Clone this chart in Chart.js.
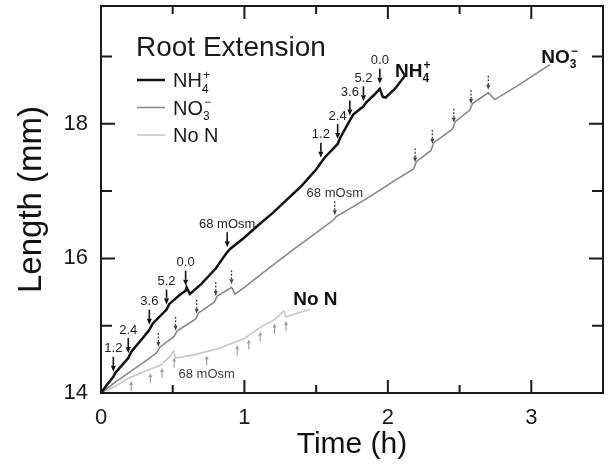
<!DOCTYPE html>
<html>
<head>
<meta charset="utf-8">
<script src="https://cdn.jsdelivr.net/npm/chart.js@4.4.0/dist/chart.umd.min.js"></script>
<style>
html, body { margin: 0; padding: 0; background: #fff; }
</style>
</head>
<body>
<canvas id="rootChart" width="611" height="471"></canvas>
<script>
// root length (mm) against time (h)
const nh4Time = [0, 0.04, 0.086, 0.1, 0.19, 0.21, 0.30, 0.337, 0.36, 0.457, 0.475, 0.55, 0.59, 0.597, 0.62, 0.70, 0.80, 0.875, 0.90, 1.00, 1.10, 1.20, 1.30, 1.40, 1.50, 1.533, 1.56, 1.65, 1.67, 1.735, 1.76, 1.83, 1.85, 1.90, 1.944, 1.965, 1.985, 2.05, 2.118];
const nh4Length = [14, 14.12, 14.24, 14.30, 14.52, 14.61, 14.84, 14.94, 15.03, 15.24, 15.32, 15.46, 15.52, 15.57, 15.47, 15.62, 15.85, 16.08, 16.14, 16.31, 16.50, 16.68, 16.88, 17.08, 17.32, 17.42, 17.50, 17.70, 17.80, 18.05, 18.14, 18.26, 18.32, 18.42, 18.52, 18.40, 18.39, 18.52, 18.71];

const no3Time = [0, 0.1, 0.2, 0.3, 0.39, 0.41, 0.51, 0.53, 0.66, 0.68, 0.79, 0.81, 0.91, 0.935, 1.0, 1.155, 1.34, 1.5, 1.62, 1.64, 1.8, 1.92, 2.05, 2.18, 2.2, 2.3, 2.32, 2.45, 2.47, 2.57, 2.59, 2.70, 2.745, 2.9, 3.13];
const no3Length = [14, 14.16, 14.31, 14.46, 14.6, 14.68, 14.84, 14.92, 15.1, 15.19, 15.35, 15.44, 15.57, 15.47, 15.57, 15.83, 16.13, 16.38, 16.57, 16.62, 16.82, 16.98, 17.16, 17.33, 17.44, 17.6, 17.72, 17.92, 18.03, 18.2, 18.3, 18.46, 18.36, 18.56, 18.88];

const noNTime = [0, 0.1, 0.19, 0.33, 0.42, 0.48, 0.505, 0.52, 0.655, 0.818, 1.0, 1.12, 1.21, 1.275, 1.29, 1.36, 1.456];
const noNLength = [14, 14.1, 14.22, 14.34, 14.42, 14.54, 14.62, 14.52, 14.57, 14.66, 14.81, 14.99, 15.09, 15.22, 15.13, 15.18, 15.24];

// treatment changes marked with arrows
const nh4ArrowTimes = [0.086, 0.19, 0.337, 0.457, 0.59, 0.88, 1.533, 1.65, 1.735, 1.83, 1.944];
const nh4ArrowLabels = ['1.2', '2.4', '3.6', '5.2', '0.0', '68 mOsm', '1.2', '2.4', '3.6', '5.2', '0.0'];
const no3ArrowTimes = [0.40, 0.52, 0.667, 0.80, 0.91, 1.63, 2.19, 2.31, 2.46, 2.58, 2.70];
const no3ArrowLabels = ['', '', '', '', '', '68 mOsm', '', '', '', '', ''];
const noNArrowTimes = [0.21, 0.344, 0.425, 0.51, 0.737, 0.95, 1.03, 1.11, 1.21, 1.29];
const noNArrowLabels = ['', '', '', '', '68 mOsm', '', '', '', '', ''];

const xTicks = [0, 1, 2, 3];
const xMinorTicks = [0.5, 1.5, 2.5];
const yTicks = [14, 16, 18];
const yMinorTicks = [15, 17, 19];

const FONT = '"Liberation Sans", Arial, Helvetica, sans-serif';

function toPoints(times, values) {
    return times.map((t, i) => ({x: t, y: values[i]}));
}

// length of a series at time t, straight between read points
function valueAt(times, values, t) {
    for (let i = 1; i < times.length; i++) {
        if (t <= times[i]) {
            const f = (t - times[i - 1]) / (times[i] - times[i - 1]);
            return values[i - 1] + f * (values[i] - values[i - 1]);
        }
    }
    return values[values.length - 1];
}

// NH4+ / NO3- style text: parts are [text, 'n' | 'sub' | 'sup']
function drawChem(ctx, x, y, parts, size, weight) {
    let cx = x;
    let subStart = null;
    parts.forEach(([txt, kind]) => {
        if (kind === 'n') {
            ctx.font = weight + ' ' + size + 'px ' + FONT;
            ctx.fillText(txt, cx, y);
            cx += ctx.measureText(txt).width;
        } else {
            const s = Math.round(size * 0.62);
            ctx.font = weight + ' ' + s + 'px ' + FONT;
            const w = ctx.measureText(txt).width;
            if (kind === 'sub') {
                ctx.fillText(txt, cx, y + size * 0.28);
                subStart = cx;
                cx += w;
            } else {
                const sx = subStart !== null ? subStart + 1 : cx;
                ctx.fillText(txt, sx, y - size * 0.42);
                cx = Math.max(cx, sx + w);
            }
        }
    });
}

function drawArrow(ctx, px, yTail, yTip, st) {
    const dir = yTip > yTail ? 1 : -1;
    ctx.strokeStyle = st.color;
    ctx.fillStyle = st.color;
    ctx.lineWidth = st.width;
    ctx.setLineDash(st.dash || []);
    ctx.beginPath();
    ctx.moveTo(px, yTail);
    ctx.lineTo(px, yTip - dir * st.headLen);
    ctx.stroke();
    ctx.setLineDash([]);
    ctx.beginPath();
    ctx.moveTo(px, yTip);
    ctx.lineTo(px - st.headW / 2, yTip - dir * st.headLen);
    ctx.lineTo(px + st.headW / 2, yTip - dir * st.headLen);
    ctx.closePath();
    ctx.fill();
}

const arrowSets = [
    {times: nh4ArrowTimes, labels: nh4ArrowLabels, lineT: nh4Time, lineV: nh4Length, up: false,
     gap: 5, len: 15, color: '#111', width: 1.6, headLen: 6, headW: 5, labelColor: '#222'},
    {times: no3ArrowTimes, labels: no3ArrowLabels, lineT: no3Time, lineV: no3Length, up: false,
     gap: 3, len: 14, color: '#444', width: 1.3, dash: [2, 1.5], headLen: 5, headW: 4, labelColor: '#333'},
    {times: noNArrowTimes, labels: noNArrowLabels, lineT: noNTime, lineV: noNLength, up: true,
     gap: 4, len: 10, color: '#9a9a9a', width: 1.1, headLen: 4, headW: 4, labelColor: '#444'}
];

const decorations = {
    id: 'decorations',
    afterDatasetsDraw(chart) {
        const {ctx, chartArea: a, scales: {x, y}} = chart;
        ctx.save();

        // frame with inward ticks on all sides
        ctx.strokeStyle = '#1a1a1a';
        ctx.lineWidth = 2;
        ctx.strokeRect(a.left, a.top, a.right - a.left, a.bottom - a.top);
        ctx.beginPath();
        const xt = (v, l) => {
            const px = x.getPixelForValue(v);
            ctx.moveTo(px, a.bottom); ctx.lineTo(px, a.bottom - l);
            ctx.moveTo(px, a.top); ctx.lineTo(px, a.top + l);
        };
        const yt = (v, l) => {
            const py = y.getPixelForValue(v);
            ctx.moveTo(a.left, py); ctx.lineTo(a.left + l, py);
            ctx.moveTo(a.right, py); ctx.lineTo(a.right - l, py);
        };
        xTicks.forEach(v => xt(v, 13));
        xMinorTicks.forEach(v => xt(v, 8));
        yTicks.forEach(v => yt(v, 14));
        yMinorTicks.forEach(v => yt(v, 11));
        ctx.stroke();

        // arrows and their labels
        ctx.textAlign = 'center';
        ctx.textBaseline = 'middle';
        arrowSets.forEach(st => {
            st.times.forEach((t, i) => {
                const px = x.getPixelForValue(t);
                const py = y.getPixelForValue(valueAt(st.lineT, st.lineV, t));
                let tip, tail, ly;
                if (st.up) {
                    tip = py + st.gap; tail = tip + st.len; ly = tail + 9;
                } else {
                    tip = py - st.gap; tail = tip - st.len; ly = tail - 8;
                }
                drawArrow(ctx, px, tail, tip, st);
                if (st.labels[i]) {
                    ctx.fillStyle = st.labelColor;
                    ctx.font = '13px ' + FONT;
                    ctx.fillText(st.labels[i], px, ly);
                }
            });
        });

        // series names next to the curves
        ctx.textAlign = 'left';
        ctx.textBaseline = 'alphabetic';
        ctx.fillStyle = '#111';
        drawChem(ctx, x.getPixelForValue(2.05), y.getPixelForValue(18.70), [['NH', 'n'], ['4', 'sub'], ['+', 'sup']], 19, 'bold');
        drawChem(ctx, x.getPixelForValue(3.07), y.getPixelForValue(18.91), [['NO', 'n'], ['3', 'sub'], ['\u2212', 'sup']], 19, 'bold');
        drawChem(ctx, x.getPixelForValue(1.34), y.getPixelForValue(15.31), [['No N', 'n']], 19, 'bold');

        // legend block
        const lx = a.left + 35;
        ctx.fillStyle = '#1a1a1a';
        ctx.font = '28px ' + FONT;
        ctx.textBaseline = 'middle';
        ctx.fillText('Root Extension', lx, a.top + 42);
        ctx.textBaseline = 'alphabetic';
        const entries = [
            {color: '#111', w: 2.5, parts: [['NH', 'n'], ['4', 'sub'], ['+', 'sup']]},
            {color: '#858585', w: 1.5, parts: [['NO', 'n'], ['3', 'sub'], ['\u2212', 'sup']]},
            {color: '#c6c6c6', w: 1.5, parts: [['No N', 'n']]}
        ];
        entries.forEach((e, i) => {
            const ey = a.top + 74 + i * 27.5;
            ctx.strokeStyle = e.color;
            ctx.lineWidth = e.w;
            ctx.beginPath();
            ctx.moveTo(lx + 1, ey);
            ctx.lineTo(lx + 29, ey);
            ctx.stroke();
            ctx.fillStyle = '#1a1a1a';
            drawChem(ctx, lx + 37, ey + 7, e.parts, 20, 'normal');
        });
        ctx.restore();
    }
};

const ctx = document.getElementById('rootChart').getContext('2d');

const rootChart = new Chart(ctx, {
    type: 'scatter',
    data: {
        datasets: [
            {label: 'NH4+', data: toPoints(nh4Time, nh4Length), showLine: true,
             borderColor: '#111', borderWidth: 2.5, pointRadius: 0, tension: 0},
            {label: 'NO3-', data: toPoints(no3Time, no3Length), showLine: true,
             borderColor: '#858585', borderWidth: 1.5, pointRadius: 0, tension: 0},
            {label: 'No N', data: toPoints(noNTime, noNLength), showLine: true,
             borderColor: '#c6c6c6', borderWidth: 1.6, pointRadius: 0, tension: 0}
        ]
    },
    options: {
        responsive: false,
        animation: false,
        layout: {padding: {top: 6, right: 8, left: 0, bottom: 0}},
        plugins: {
            legend: {display: false},
            tooltip: {enabled: false}
        },
        scales: {
            x: {
                type: 'linear',
                min: 0,
                max: 3.5,
                afterBuildTicks: s => { s.ticks = xTicks.map(v => ({value: v})); },
                afterFit: s => { s.height = 78; s.paddingLeft = 0; s.paddingRight = 0; },
                grid: {display: false, drawTicks: false},
                border: {display: false},
                ticks: {font: {size: 22, family: FONT}, color: '#1a1a1a', padding: 12, maxRotation: 0},
                title: {display: true, text: 'Time (h)', color: '#111',
                        font: {size: 30, family: FONT}, padding: {top: 0, bottom: 8}}
            },
            y: {
                min: 14,
                max: 19.75,
                afterBuildTicks: s => { s.ticks = yTicks.map(v => ({value: v})); },
                afterFit: s => { s.width = 101; s.paddingTop = 0; s.paddingBottom = 0; },
                grid: {display: false, drawTicks: false},
                border: {display: false},
                ticks: {font: {size: 22, family: FONT}, color: '#1a1a1a', padding: 13},
                title: {display: true, text: 'Length (mm)', color: '#111',
                        font: {size: 33, family: FONT}, padding: {top: 12, bottom: 0}}
            }
        }
    },
    plugins: [decorations]
});
</script>
</body>
</html>
